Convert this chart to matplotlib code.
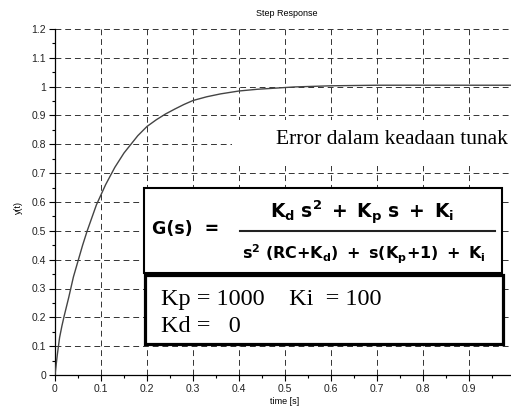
import numpy as np
import matplotlib
matplotlib.use("Agg")
import matplotlib.pyplot as plt
from matplotlib.patches import Rectangle
from matplotlib.lines import Line2D
from matplotlib.ticker import MultipleLocator, FuncFormatter

# ------------------------------------------------------------
# data (step response)
# ------------------------------------------------------------
time_s = [0.0, 0.005, 0.01, 0.015, 0.02, 0.03, 0.04, 0.05, 0.06, 0.07,
          0.08, 0.09, 0.1, 0.11, 0.12, 0.13, 0.14, 0.15, 0.16, 0.18,
          0.2, 0.22, 0.24, 0.26, 0.28, 0.3, 0.33, 0.36, 0.4, 0.44,
          0.48, 0.52, 0.56, 0.6, 0.65, 0.7, 0.8, 0.9, 1.0]
y_t = [0.0, 0.07, 0.13, 0.17, 0.205, 0.27, 0.34, 0.395, 0.45, 0.50,
       0.545, 0.59, 0.625, 0.66, 0.69, 0.72, 0.745, 0.77, 0.79, 0.83,
       0.862, 0.885, 0.905, 0.922, 0.938, 0.952, 0.965, 0.975, 0.985, 0.991,
       0.995, 0.999, 1.001, 1.003, 1.004, 1.005, 1.005, 1.005, 1.005]

x_ticks = [0.0, 0.1, 0.2, 0.3, 0.4, 0.5, 0.6, 0.7, 0.8, 0.9]
y_ticks = [0.0, 0.1, 0.2, 0.3, 0.4, 0.5, 0.6, 0.7, 0.8, 0.9, 1.0, 1.1, 1.2]

TITLE = "Step Response"
XLABEL = "time [s]"
YLABEL = "y(t)"
NOTE = "Error dalam keadaan tunak"
GAIN_LINE1 = "Kp = 1000    Ki  = 100"
GAIN_LINE2 = "Kd =   0"
TF_LHS = "G(s)  ="
TF_NUM = r"$\mathbf{K_d\ s^2\ +\ K_p\ s\ +\ K_i}$"
TF_DEN = r"$\mathbf{s^2\ (RC{+}K_d)\ +\ s(K_p{+}1)\ +\ K_i}$"

W, H = 511, 407


def fx(x):
    return x / W


def fy(y):
    return 1 - y / H


fig = plt.figure(figsize=(W / 100, H / 100), dpi=100)
ax = fig.add_axes([fx(55), fy(375), (515 - 55) / W, (375 - 29) / H])

ax.plot(time_s, y_t, color="#444444", lw=1.0, zorder=3)

ax.set_xlim(0, 1)
ax.set_ylim(0, 1.2)
ax.set_xticks(x_ticks)
ax.set_yticks(y_ticks)
ax.xaxis.set_minor_locator(MultipleLocator(0.05))
ax.yaxis.set_minor_locator(MultipleLocator(0.05))
fmt = FuncFormatter(lambda v, p: "%g" % round(v, 2))
ax.xaxis.set_major_formatter(fmt)
ax.yaxis.set_major_formatter(fmt)
for lab in ax.get_xticklabels() + ax.get_yticklabels():
    lab.set_family("Liberation Sans")

ax.grid(True, which="major", color="#333333", lw=0.7, linestyle=(0, (6, 4)))
ax.tick_params(which="major", length=4.5, width=0.8, pad=2,
               labelsize=7.5, labelcolor="#222222")
ax.tick_params(which="minor", length=2.2, width=0.8)
for side in ("top", "right"):
    ax.spines[side].set_visible(False)
for side in ("left", "bottom"):
    ax.spines[side].set_linewidth(0.9)

fig.text(fx(287), fy(14), TITLE, ha="center", va="center", fontsize=6.5,
         family="Liberation Sans")
fig.text(fx(285), fy(401), XLABEL, ha="center", va="center", fontsize=6.5,
         family="Liberation Sans")
fig.text(fx(18), fy(207), YLABEL, ha="center", va="center", fontsize=6.5,
         rotation=90, family="Liberation Sans")

# white patch behind the note
fig.add_artist(Rectangle((fx(232), fy(166)), (W - 232) / W, 46 / H,
                         transform=fig.transFigure, facecolor="white",
                         edgecolor="none", zorder=5))
fig.text(fx(392), fy(140), NOTE, ha="center", va="center", fontsize=15.5,
         family="Liberation Serif", zorder=6)

# transfer function box
fig.add_artist(Rectangle((fx(144), fy(273)), (502 - 144) / W, (273 - 188) / H,
                         transform=fig.transFigure, facecolor="white",
                         edgecolor="black", lw=1.5, zorder=5))
fig.text(fx(152), fy(229), TF_LHS, ha="left", va="center", fontsize=12.5,
         fontweight="bold", family="DejaVu Sans", zorder=6)
fig.text(fx(362), fy(213), TF_NUM, ha="center", va="center", fontsize=13.5,
         zorder=6)
fig.add_artist(Line2D([fx(240), fx(495)], [fy(231), fy(231)],
                      transform=fig.transFigure, color="#222222", lw=1.5,
                      zorder=6))
fig.text(fx(364), fy(254), TF_DEN, ha="center", va="center", fontsize=11.5,
         zorder=6)

# gain box
fig.add_artist(Rectangle((fx(145), fy(344)), (503 - 145) / W, (344 - 275) / H,
                         transform=fig.transFigure, facecolor="white",
                         edgecolor="black", lw=2.3, zorder=5))
fig.text(fx(161), fy(299), GAIN_LINE1, ha="left", va="center", fontsize=17.5,
         family="Liberation Serif", zorder=6)
fig.text(fx(161), fy(327), GAIN_LINE2, ha="left", va="center", fontsize=17.5,
         family="Liberation Serif", zorder=6)

fig.savefig("out.png", dpi=100, facecolor="white")
